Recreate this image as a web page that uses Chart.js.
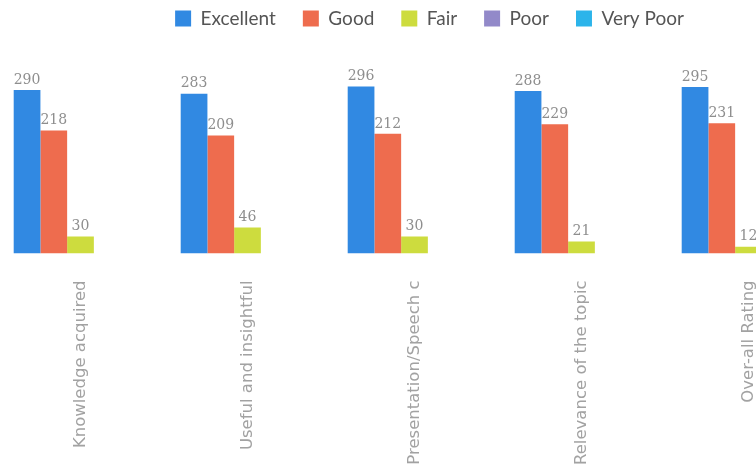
<!DOCTYPE html>
<html>
<head>
<meta charset="utf-8">
<script src="https://cdn.jsdelivr.net/npm/chart.js@4"></script>
<style>
  html, body { margin: 0; padding: 0; background: #ffffff; overflow: hidden; width: 756px; height: 467px; }
  #wrap { position: absolute; left: -3px; top: -18px; width: 892px; height: 510px; }
</style>
</head>
<body>
<div id="wrap"><canvas id="c"></canvas></div>
<script>
const categories = ["Knowledge acquired", "Useful and insightful", "Presentation/Speech c", "Relevance of the topic", "Over-all Rating"];
const seriesNames = ["Excellent", "Good", "Fair", "Poor", "Very Poor"];
const excellent = [290, 283, 296, 288, 295];
const good = [218, 209, 212, 229, 231];
const fair = [30, 46, 30, 21, 12];
const poor = [0, 0, 0, 0, 0];
const veryPoor = [0, 0, 0, 0, 0];
const colors = ["#3189e2", "#ee6c4e", "#cddc3e", "#9289c9", "#2cb4ea"];

const valueLabels = {
  id: 'valueLabels',
  afterDatasetsDraw(chart) {
    const ctx = chart.ctx;
    ctx.save();
    ctx.font = '14px "DejaVu Serif"';
    ctx.fillStyle = '#8e8e8e';
    ctx.textAlign = 'center';
    ctx.textBaseline = 'bottom';
    chart.data.datasets.forEach((ds, i) => {
      const meta = chart.getDatasetMeta(i);
      meta.data.forEach((bar, j) => {
        const v = ds.data[j];
        if (!v) return;
        ctx.fillText(String(v), bar.x, bar.y - 3);
      });
    });
    ctx.restore();
  }
};

const legendShift = {
  id: 'legendShift',
  afterLayout(chart) {
    const l = chart.legend;
    if (!l) return;
    l.left += 15;
    l.right += 15;
  }
};

const seriesData = [excellent, good, fair, poor, veryPoor];
new Chart(document.getElementById('c'), {
  type: 'bar',
  data: {
    labels: categories,
    datasets: seriesNames.map((n, i) => ({
      label: n,
      data: seriesData[i],
      backgroundColor: colors[i],
      borderWidth: 0,
      categoryPercentage: 0.8,
      barPercentage: 1.0
    }))
  },
  options: {
    responsive: true,
    maintainAspectRatio: false,
    animation: false,
    layout: { padding: { left: 0, right: 57, top: 0, bottom: 0 } },
    plugins: {
      legend: {
        position: 'top',
        labels: {
          boxWidth: 16, boxHeight: 16, padding: 27,
          color: '#555555',
          font: { family: 'Lato', size: 19 }
        }
      },
      tooltip: { enabled: false }
    },
    scales: {
      x: {
        grid: { display: false, drawTicks: false },
        border: { display: false },
        ticks: {
          autoSkip: false, maxRotation: 90, minRotation: 90, padding: 27,
          color: '#a2a2a2',
          font: { family: 'DejaVu Sans', size: 16.5 }
        }
      },
      y: {
        display: false,
        min: 0, max: 382
      }
    }
  },
  plugins: [valueLabels, legendShift]
});
</script>
</body>
</html>
